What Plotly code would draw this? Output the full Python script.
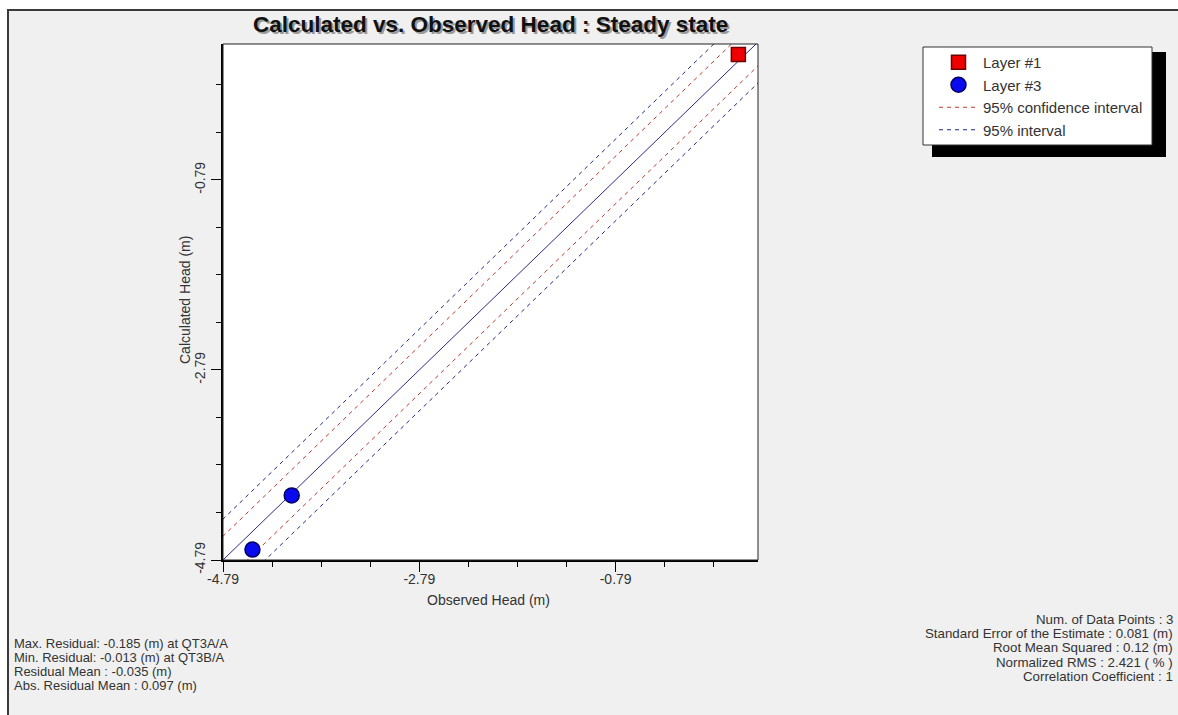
import plotly.graph_objects as go

# ---------------- data ----------------
layer1_observed = [0.46]
layer1_calculated = [0.53]
layer3_observed = [-4.09, -4.49]
layer3_calculated = [-4.11, -4.68]

axis_min = -4.79
axis_max_x = 0.66
axis_max_y = 0.64
conf_offset = 0.25     # 95% confidence interval half-width (m)
pred_offset = 0.43     # 95% interval half-width (m)

major_ticks = [-4.79, -2.79, -0.79]
major_tick_labels = ["-4.79", "-2.79", "-0.79"]
minor_ticks = [-4.29, -3.79, -3.29, -2.29, -1.79, -1.29, -0.29, 0.21]

title_text = "Calculated vs. Observed Head : Steady state"
x_title = "Observed Head (m)"
y_title = "Calculated Head (m)"
legend_names = ["Layer #1", "Layer #3", "95% confidence interval", "95% interval"]

left_stats = [
    "Max. Residual: -0.185 (m) at QT3A/A",
    "Min. Residual: -0.013 (m) at QT3B/A",
    "Residual Mean : -0.035 (m)",
    "Abs. Residual Mean : 0.097 (m)",
]
right_stats = [
    "Num. of Data Points : 3",
    "Standard Error of the Estimate : 0.081 (m)",
    "Root Mean Squared : 0.12 (m)",
    "Normalized RMS : 2.421 ( % )",
    "Correlation Coefficient : 1",
]

# ---------------- geometry (page pixels) ----------------
W, H = 1178, 715
PL, PR, PT, PB = 223, 758, 44, 560   # plot area


def px(x):
    return (x - PL) / (PR - PL)


def py(y):
    return (PB - y) / (PB - PT)


FONT = "Arial, 'Liberation Sans', sans-serif"
TXT = "#333333"

line_x = [axis_min - 1, axis_max_x + 1]

fig = go.Figure()

# 95% interval (outer, blue dashed)
for sgn in (1, -1):
    fig.add_trace(go.Scatter(
        x=line_x, y=[v + sgn * pred_offset for v in line_x], mode="lines",
        line=dict(color="#1c2a8c", width=1, dash="4px,4px"),
        name=legend_names[3], legendgroup="pred", showlegend=(sgn == 1),
        legendrank=4, hoverinfo="skip"))
# 95% confidence interval (inner, red dashed)
for sgn in (1, -1):
    fig.add_trace(go.Scatter(
        x=line_x, y=[v + sgn * conf_offset for v in line_x], mode="lines",
        line=dict(color="#c0392b", width=1, dash="4px,4px"),
        name=legend_names[2], legendgroup="conf", showlegend=(sgn == 1),
        legendrank=3, hoverinfo="skip"))
# 1:1 line
fig.add_trace(go.Scatter(
    x=line_x, y=line_x, mode="lines",
    line=dict(color="#2a2a8a", width=1), showlegend=False, hoverinfo="skip"))

fig.add_trace(go.Scatter(
    x=layer1_observed, y=layer1_calculated, mode="markers", name=legend_names[0],
    legendrank=1, cliponaxis=False,
    marker=dict(symbol="square", size=14, color="#ee0000",
                line=dict(color="#700000", width=1.5))))
fig.add_trace(go.Scatter(
    x=layer3_observed, y=layer3_calculated, mode="markers", name=legend_names[1],
    legendrank=2, cliponaxis=False,
    marker=dict(symbol="circle", size=15, color="#0a0aee",
                line=dict(color="#000060", width=1.5))))

axis_common = dict(
    tickmode="array", tickvals=major_ticks, ticktext=major_tick_labels,
    ticks="outside", ticklen=10, tickwidth=1, tickcolor="black",
    showline=True, linecolor="black", linewidth=2, mirror=False,
    showgrid=False, zeroline=False,
    tickfont=dict(family=FONT, size=14, color=TXT),
    minor=dict(tickvals=minor_ticks, ticks="outside", ticklen=5,
               tickwidth=1, tickcolor="black", showgrid=False),
)

fig.update_xaxes(range=[axis_min, axis_max_x], ticklabelstandoff=-5, **axis_common)
fig.update_yaxes(range=[axis_min, axis_max_y], tickangle=-90, **axis_common)

shapes = [
    # white strips outside the window frame
    dict(type="rect", xref="paper", yref="paper", x0=px(-5), y0=py(-5), x1=px(1190), y1=py(9),
         line=dict(width=0), fillcolor="white", layer="below"),
    dict(type="rect", xref="paper", yref="paper", x0=px(-5), y0=py(-5), x1=px(7), y1=py(730),
         line=dict(width=0), fillcolor="white", layer="below"),
    # outer window frame
    dict(type="rect", xref="paper", yref="paper", x0=px(8), y0=py(760), x1=px(1200), y1=py(10),
         line=dict(color="#3a3a3a", width=2), fillcolor="rgba(0,0,0,0)", layer="below"),
    # plot border
    dict(type="rect", xref="paper", yref="paper", x0=0, y0=0, x1=1, y1=1,
         line=dict(color="#222222", width=1), layer="above"),
    # legend shadow
    dict(type="rect", xref="paper", yref="paper", x0=px(932), y0=py(157), x1=px(1166), y1=py(52),
         line=dict(width=0), fillcolor="black", layer="below"),
    # legend box
    dict(type="rect", xref="paper", yref="paper", x0=px(923), y0=py(145), x1=px(1152), y1=py(47),
         line=dict(color="#333333", width=1), fillcolor="white", layer="below"),
]

annotations = [
    dict(text="<b>" + title_text + "</b>", x=px(492), y=py(27), xref="paper", yref="paper",
         showarrow=False, xanchor="center", yanchor="middle",
         font=dict(family=FONT, size=22.5, color="#9a9a9a")),
    dict(text="<b>" + title_text + "</b>", x=px(490), y=py(25), xref="paper", yref="paper",
         showarrow=False, xanchor="center", yanchor="middle",
         font=dict(family=FONT, size=22.5, color="#111111")),
    dict(text=x_title, x=px(488), y=py(600), xref="paper", yref="paper",
         showarrow=False, xanchor="center", yanchor="middle",
         font=dict(family=FONT, size=14, color=TXT)),
    dict(text=y_title, x=px(185), y=py(300), xref="paper", yref="paper",
         showarrow=False, xanchor="center", yanchor="middle", textangle=-90,
         font=dict(family=FONT, size=14, color=TXT)),
]
LINE_GAP = 14.2
for i, t in enumerate(left_stats):
    annotations.append(dict(text=t, x=px(12), y=py(643 + i * LINE_GAP), xref="paper", yref="paper",
                            showarrow=False, xanchor="left", yanchor="middle",
                            font=dict(family=FONT, size=13, color=TXT)))
for i, t in enumerate(right_stats):
    annotations.append(dict(text=t, x=px(1175), y=py(619.5 + i * LINE_GAP), xref="paper", yref="paper",
                            showarrow=False, xanchor="right", yanchor="middle",
                            font=dict(family=FONT, size=13.3, color=TXT)))

fig.update_layout(
    width=W, height=H, autosize=False,
    margin=dict(l=PL, r=W - PR, t=PT, b=H - PB, pad=0),
    paper_bgcolor="#f0f0f0", plot_bgcolor="white",
    shapes=shapes, annotations=annotations,
    showlegend=True,
    legend=dict(x=px(934), y=py(46), xanchor="left", yanchor="top",
                bgcolor="rgba(0,0,0,0)", borderwidth=0, itemsizing="trace",
                itemwidth=39, traceorder="normal", tracegroupgap=0,
                font=dict(family=FONT, size=15, color=TXT)),
    hovermode=False,
)

fig.write_html(
    "out.html",
    config={"displayModeBar": False},
    post_script="document.body.style.margin='0';document.body.style.overflow='hidden';",
)
